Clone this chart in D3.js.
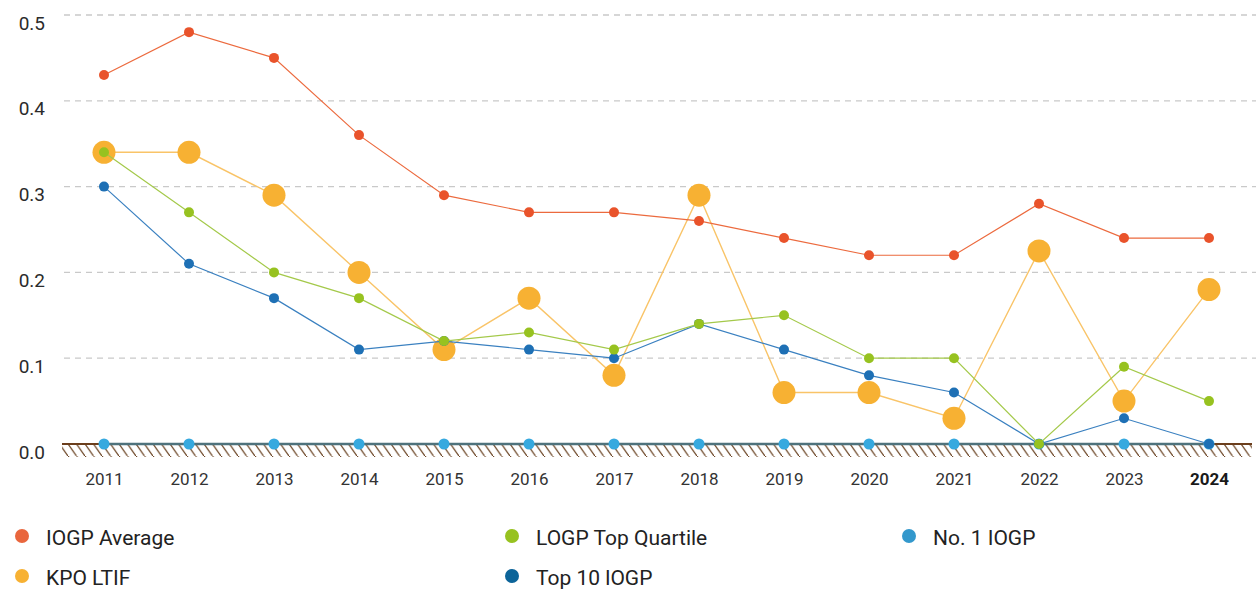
<!DOCTYPE html>
<html>
<head>
<meta charset="utf-8">
<script src="https://cdn.jsdelivr.net/npm/d3@7"></script>
<style>
  body { margin: 0; background: #fff; }
  text { font-family: Roboto, "Noto Sans", sans-serif; }
</style>
</head>
<body>
<div class="mainContent"></div>
<script>
const w = 1256;
const h = 590;

const years = ['2011','2012','2013','2014','2015','2016','2017','2018','2019','2020','2021','2022','2023','2024'];
const yTicks = [0, 0.1, 0.2, 0.3, 0.4, 0.5];

const iogpAverage = [0.43, 0.48, 0.45, 0.36, 0.29, 0.27, 0.27, 0.26, 0.24, 0.22, 0.22, 0.28, 0.24, 0.24];
const kpoLtif = [0.34, 0.34, 0.29, 0.20, 0.11, 0.17, 0.08, 0.29, 0.06, 0.06, 0.03, 0.225, 0.05, 0.18];
const topQuartile = [0.34, 0.27, 0.20, 0.17, 0.12, 0.13, 0.11, 0.14, 0.15, 0.10, 0.10, 0.00, 0.09, 0.05];
const top10 = [0.30, 0.21, 0.17, 0.11, 0.12, 0.11, 0.10, 0.14, 0.11, 0.08, 0.06, 0.00, 0.03, 0.00];
const no1 = [0, 0, 0, 0, 0, 0, 0, 0, 0, 0, 0, 0, 0, 0];

// draw order: first is bottom
const series = [
    {name: 'KPO LTIF', values: kpoLtif, color: '#f7b133', line: '#f9c468', r: 11.5, lw: 1.4},
    {name: 'IOGP Average', values: iogpAverage, color: '#e9532b', line: '#ec6a3e', r: 5, lw: 1.2},
    {name: 'No. 1 IOGP', values: no1, color: '#36a9df', line: '#4e727c', r: 5.5, lw: 2.5},
    {name: 'Top 10 IOGP', values: top10, color: '#1e70b5', line: '#3a80c0', r: 5, lw: 1.2},
    {name: 'LOGP Top Quartile', values: topQuartile, color: '#97c220', line: '#a4c94a', r: 5, lw: 1.2}
];

const legendItems = [
    {name: 'IOGP Average', color: '#e9663d', col: 0, row: 0},
    {name: 'KPO LTIF', color: '#f7b133', col: 0, row: 1},
    {name: 'LOGP Top Quartile', color: '#97c220', col: 1, row: 0},
    {name: 'Top 10 lOGP', color: '#0c6499', col: 1, row: 1},
    {name: 'No. 1 IOGP', color: '#3398cc', col: 2, row: 0}
];

const svg = d3.select('.mainContent')
    .append('svg')
    .attr('width', w)
    .attr('height', h);

const xScale = d3.scalePoint()
    .domain(years)
    .range([104, 1209]);

const yScale = d3.scaleLinear()
    .domain([0, 0.5])
    .range([444, 15]);

// gridlines
svg.append('g')
    .selectAll('line')
    .data(yTicks.filter(d => d > 0))
    .enter()
    .append('line')
    .attr('x1', 64)
    .attr('x2', w)
    .attr('y1', d => yScale(d))
    .attr('y2', d => yScale(d))
    .attr('stroke', '#c9c9c9')
    .attr('stroke-width', 1.3)
    .attr('stroke-dasharray', '6,5');

// y axis labels
const yAxis = d3.axisLeft(yScale).tickValues(yTicks).tickFormat(d3.format('.1f')).tickSize(0).tickPadding(0);
const yg = svg.append('g')
    .attr('transform', 'translate(45,8)')
    .call(yAxis);
yg.select('.domain').remove();
yg.selectAll('text')
    .attr('font-size', 19)
    .attr('fill', '#2b2b2b');

// hatched baseline
const hatch = svg.append('defs').append('pattern')
    .attr('id', 'hatch')
    .attr('patternUnits', 'userSpaceOnUse')
    .attr('width', 8.5)
    .attr('height', 12);
hatch.append('line')
    .attr('x1', 0).attr('y1', 0)
    .attr('x2', 8.5).attr('y2', 12)
    .attr('stroke', '#6b4424')
    .attr('stroke-width', 1.3);

svg.append('rect')
    .attr('x', 62)
    .attr('y', yScale(0) + 1)
    .attr('width', 1190)
    .attr('height', 12)
    .attr('fill', 'url(#hatch)');

svg.append('line')
    .attr('x1', 62)
    .attr('x2', 1252)
    .attr('y1', yScale(0))
    .attr('y2', yScale(0))
    .attr('stroke', '#6b3e1c')
    .attr('stroke-width', 2);

// x axis labels
const xAxis = d3.axisBottom(xScale).tickSize(0).tickPadding(0);
const xg = svg.append('g')
    .attr('transform', 'translate(0,485)')
    .call(xAxis);
xg.select('.domain').remove();
xg.selectAll('text')
    .attr('font-size', 17)
    .attr('dy', 0)
    .attr('font-weight', d => d === '2024' ? 'bold' : 'normal')
    .attr('fill', d => d === '2024' ? '#1a1a1a' : '#333');

// lines and points
const line = d3.line()
    .x((d, i) => xScale(years[i]))
    .y(d => yScale(d));

series.forEach(s => {
    const g = svg.append('g');
    g.append('path')
        .datum(s.values)
        .attr('d', line)
        .attr('fill', 'none')
        .attr('stroke', s.line)
        .attr('stroke-width', s.lw);
    g.selectAll('circle')
        .data(s.values)
        .enter()
        .append('circle')
        .attr('cx', (d, i) => xScale(years[i]))
        .attr('cy', d => yScale(d))
        .attr('r', s.r)
        .attr('fill', s.color);
});

// legend
const colX = [22, 512, 909];
const rowY = [538, 578];
const lg = svg.append('g')
    .selectAll('g')
    .data(legendItems)
    .enter()
    .append('g')
    .attr('transform', d => `translate(${colX[d.col]},${rowY[d.row]})`);
lg.append('circle')
    .attr('cx', 0)
    .attr('cy', -2)
    .attr('r', 7)
    .attr('fill', d => d.color);
lg.append('text')
    .attr('x', 24)
    .attr('y', 7)
    .attr('font-size', 21)
    .attr('fill', '#222')
    .text(d => d.name);
</script>
</body>
</html>
